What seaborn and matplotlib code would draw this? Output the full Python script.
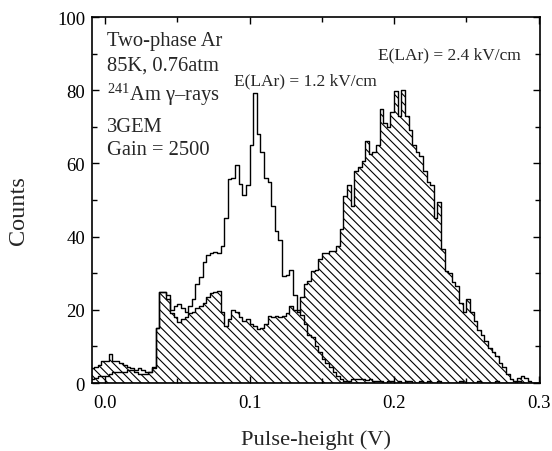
import numpy as np
import pandas as pd
import matplotlib
matplotlib.use("Agg")
import matplotlib.pyplot as plt
import matplotlib.ticker as mticker
import seaborn as sns

sns.set_style("ticks")
plt.rcParams['font.family'] = ['Liberation Serif', 'DejaVu Serif']
plt.rcParams['mathtext.fontset'] = 'custom'
plt.rcParams['mathtext.rm'] = 'Liberation Serif'
plt.rcParams['hatch.linewidth'] = 0.8

# =====================
# DATA  (counts per 0.0025 V bin, starting at -0.01 V)
# =====================
bin_start, bin_stop, bin_width = -0.01, 0.30, 0.0025

# E(LAr) = 2.4 kV/cm  (hatched)
counts_24 = [
    4, 4.5, 5, 6,
    6, 8, 6, 6,
    5.5, 5, 4.5, 4,
    3, 2.5, 2.5, 2.5,
    3, 4.4, 15, 25,
    25, 23, 19, 18,
    16.6, 17.5, 18, 19,
    19.5, 20.5, 21, 22,
    23.5, 24.5, 24.8, 25.2,
    19.4, 15.5, 17.5, 20,
    19.4, 18, 17, 17.5,
    16, 15.5, 14.8, 15,
    16, 18.4, 18, 18.4,
    18, 18.4, 19, 21,
    20, 19.4, 23.5, 27,
    28, 30.5, 31, 34,
    35.5, 35.5, 36.2, 36,
    37.5, 42, 51, 54,
    48.5, 58, 59, 60.7,
    66, 62.5, 63, 65,
    75, 71, 70, 74,
    79.8, 73, 80, 73,
    69, 65, 63, 62,
    58, 55, 54, 45,
    49.5, 36.6, 30.5, 30,
    27.5, 26.5, 22, 19.5,
    23, 19.5, 17, 14.5,
    13, 11.5, 9.7, 8.4,
    7.3, 5.6, 4.5, 2.5,
    1, 0.5, 1.5, 2,
    1.5, 0.5, 0, 0,
]

# E(LAr) = 1.2 kV/cm  (open)
counts_12 = [
    1, 1.5, 2, 2,
    2, 2.5, 3, 3,
    3, 3, 3.5, 3.5,
    3.5, 4, 3.5, 3,
    3, 4, 15, 25,
    25, 24, 20, 21,
    21.5, 20.5, 19.5, 21,
    23, 27, 29, 33,
    35, 35.5, 35.7, 35.5,
    37.5, 45, 55.7, 56,
    59.5, 54.5, 51.5, 54,
    65, 79.2, 68, 63,
    56, 55, 48.5, 41.5,
    39, 29.3, 29.5, 31,
    24, 20, 18.5, 16,
    13, 12.5, 10, 8.5,
    6.6, 5.5, 4.5, 3,
    2, 1, 0.6, 0.6,
    1, 1, 1.2, 1,
    0.8, 1.2, 0.5, 0.5,
    0.5, 0, 0.5, 0.5,
    0, 0.5, 0, 0.5,
    0.5, 0, 0, 0.5,
    0, 0.5, 0, 0,
    0.5, 0, 0, 0,
    0, 0, 0.5, 0,
    0, 0, 0, 0.5,
    0, 0, 0, 0,
    0.5, 0, 0, 0,
    0, 0, 0.5, 0,
    0, 0, 0, 0,
]

bin_centers = bin_start + bin_width * (np.arange(len(counts_24)) + 0.5)
df = pd.DataFrame({'pulse': bin_centers, 'c24': counts_24, 'c12': counts_12})

fig = plt.figure(figsize=(5.52, 4.52), dpi=100)
ax = fig.add_axes([0.1667, 0.1504, 0.8116, 0.8097])

# hatched histogram (2.4 kV/cm)
sns.histplot(data=df, x='pulse', weights='c24', binwidth=bin_width,
             binrange=(bin_start, bin_stop), element="step",
             fill=True, color="black", linewidth=1.0, ax=ax)
poly = ax.collections[-1]
poly.set_facecolor("none")
poly.set_edgecolor("black")
poly.set_hatch("\\\\\\\\")

# open histogram (1.2 kV/cm)
sns.histplot(data=df, x='pulse', weights='c12', binwidth=bin_width,
             binrange=(bin_start, bin_stop), element="step",
             fill=False, color="black", linewidth=1.0, ax=ax)

ax.set_xlim(-0.009, 0.301)
ax.set_ylim(0, 100)
ax.set_xticks([0.0, 0.1, 0.2, 0.3])
ax.xaxis.set_minor_locator(mticker.MultipleLocator(0.05))
ax.xaxis.set_major_formatter(mticker.FormatStrFormatter('%.1f'))
ax.yaxis.set_major_locator(mticker.MultipleLocator(20))
ax.yaxis.set_minor_locator(mticker.MultipleLocator(10))
ax.tick_params(which='both', direction='in', top=True, right=True, labelsize=13.5,
               width=1.0, colors='black')
ax.tick_params(which='major', length=5)
ax.tick_params(which='minor', length=3.4)
ax.tick_params(axis='x', pad=8)
ax.tick_params(axis='y', pad=5)
for s in ax.spines.values():
    s.set_linewidth(1.2)
    s.set_color('black')

ax.set_xlabel('Pulse-height (V)', fontsize=16.2)
ax.set_ylabel('Counts', fontsize=17.5)
ax.xaxis.set_label_coords(0.5, -0.127)
ax.yaxis.set_label_coords(-0.14, 0.475)

info = [('Two-phase Ar', 93.5), ('85K, 0.76atm', 87.0),
        (r'$\mathregular{^{241}}$Am γ–rays', 79.0), ('3GEM', 70.2), ('Gain = 2500', 63.7)]
for txt, yv in info:
    ax.text(0.0014, yv, txt, fontsize=14.8, va='center', ha='left')

ax.text(0.089, 82.8, 'E(LAr) = 1.2 kV/cm', fontsize=12.5, va='center', ha='left')
ax.text(0.189, 89.9, 'E(LAr) = 2.4 kV/cm', fontsize=12.5, va='center', ha='left')

fig.savefig('out.png', dpi=100)
